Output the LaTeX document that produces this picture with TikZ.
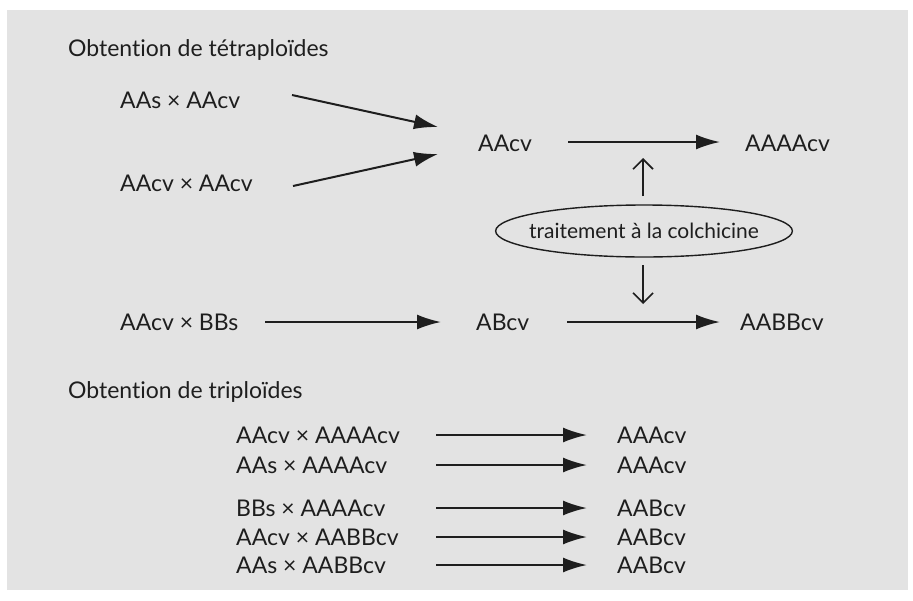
\documentclass[tikz,border=0pt]{standalone}
\usepackage{fontspec}
\setmainfont{Lato}[Ligatures={NoCommon,NoRequired,NoContextual}]
\usetikzlibrary{arrows.meta,shapes.geometric}
\definecolor{bg}{HTML}{E3E3E3}
\definecolor{ink}{HTML}{1E1E1E}
\tikzset{
  lbl/.style={text=ink, inner sep=0pt, font=\fontsize{23}{26}\selectfont, anchor=west},
  title/.style={lbl},
  fat/.style={draw=ink, line width=2pt, -{Latex[length=24pt,width=15pt]}},
  thin/.style={draw=ink, line width=1.6pt, -{Straight Barb[length=10pt,width=20pt]}},
}
\begin{document}
\begin{tikzpicture}[x=1pt,y=-1pt]
\useasboundingbox (0,0) rectangle (913,600);
\fill[bg] (7,10) rectangle (908,590);
% tetraploids
\node[title] (t1) at (68,50) {Obtention de tétraploïdes};
\node[lbl] (c1) at (120,100) {AAs × AAcv};
\node[lbl] (c2) at (120,183) {AAcv × AAcv};
\node[lbl] (aacv) at (478,143) {AAcv};
\node[lbl] (aaaacv) at (745,143) {AAAAcv};
\node[ellipse, draw=ink, line width=1.4pt, minimum width=295pt, minimum height=52pt, inner xsep=-10pt, inner ysep=0pt, text=ink, font=\fontsize{21}{24}\selectfont] (col) at (644,231) {traitement à la colchicine};
\node[lbl] (c3) at (120,322) {AAcv × BBs};
\node[lbl] (abcv) at (476,322) {ABcv};
\node[lbl] (aabbcv) at (740,322) {AABBcv};
\coordinate (a1s) at (292,95);
\coordinate (a1e) at (438,127);
\coordinate (a2s) at (293,186);
\coordinate (a2e) at (438,154);
\draw[fat] (a1s) -- (a1e);
\draw[fat] (a2s) -- (a2e);
\coordinate (h1s) at (568,142); \coordinate (h1e) at (720,142);
\draw[fat] (h1s) -- (h1e);
\coordinate (h2s) at (265,322); \coordinate (h2e) at (441,322);
\draw[fat] (h2s) -- (h2e);
\coordinate (h3s) at (567,322); \coordinate (h3e) at (720,322);
\draw[fat] (h3s) -- (h3e);
\coordinate (ups) at (643,196);
\coordinate (upe) at (643,158);
\coordinate (dns) at (643,265);
\coordinate (dne) at (643,304);
\draw[thin] (ups) -- (upe);
\draw[thin] (dns) -- (dne);
% triploids
\node[title] (t2) at (68,392) {Obtention de triploïdes};
\foreach \y/\l/\r/\n in {435/AAcv × AAAAcv/AAAcv/1, 465/AAs × AAAAcv/AAAcv/2, 508/BBs × AAAAcv/AABcv/3, 537/AAcv × AABBcv/AABcv/4, 565/AAs × AABBcv/AABcv/5}{
  \node[lbl] (l\n) at (236,\y) {\l};
  \node[lbl] (r\n) at (617,\y) {\r};
  \coordinate (s\n) at (436,\y);
  \coordinate (e\n) at (587,\y);
  \draw[fat] (s\n) -- (e\n);
}
\end{tikzpicture}
\end{document}
